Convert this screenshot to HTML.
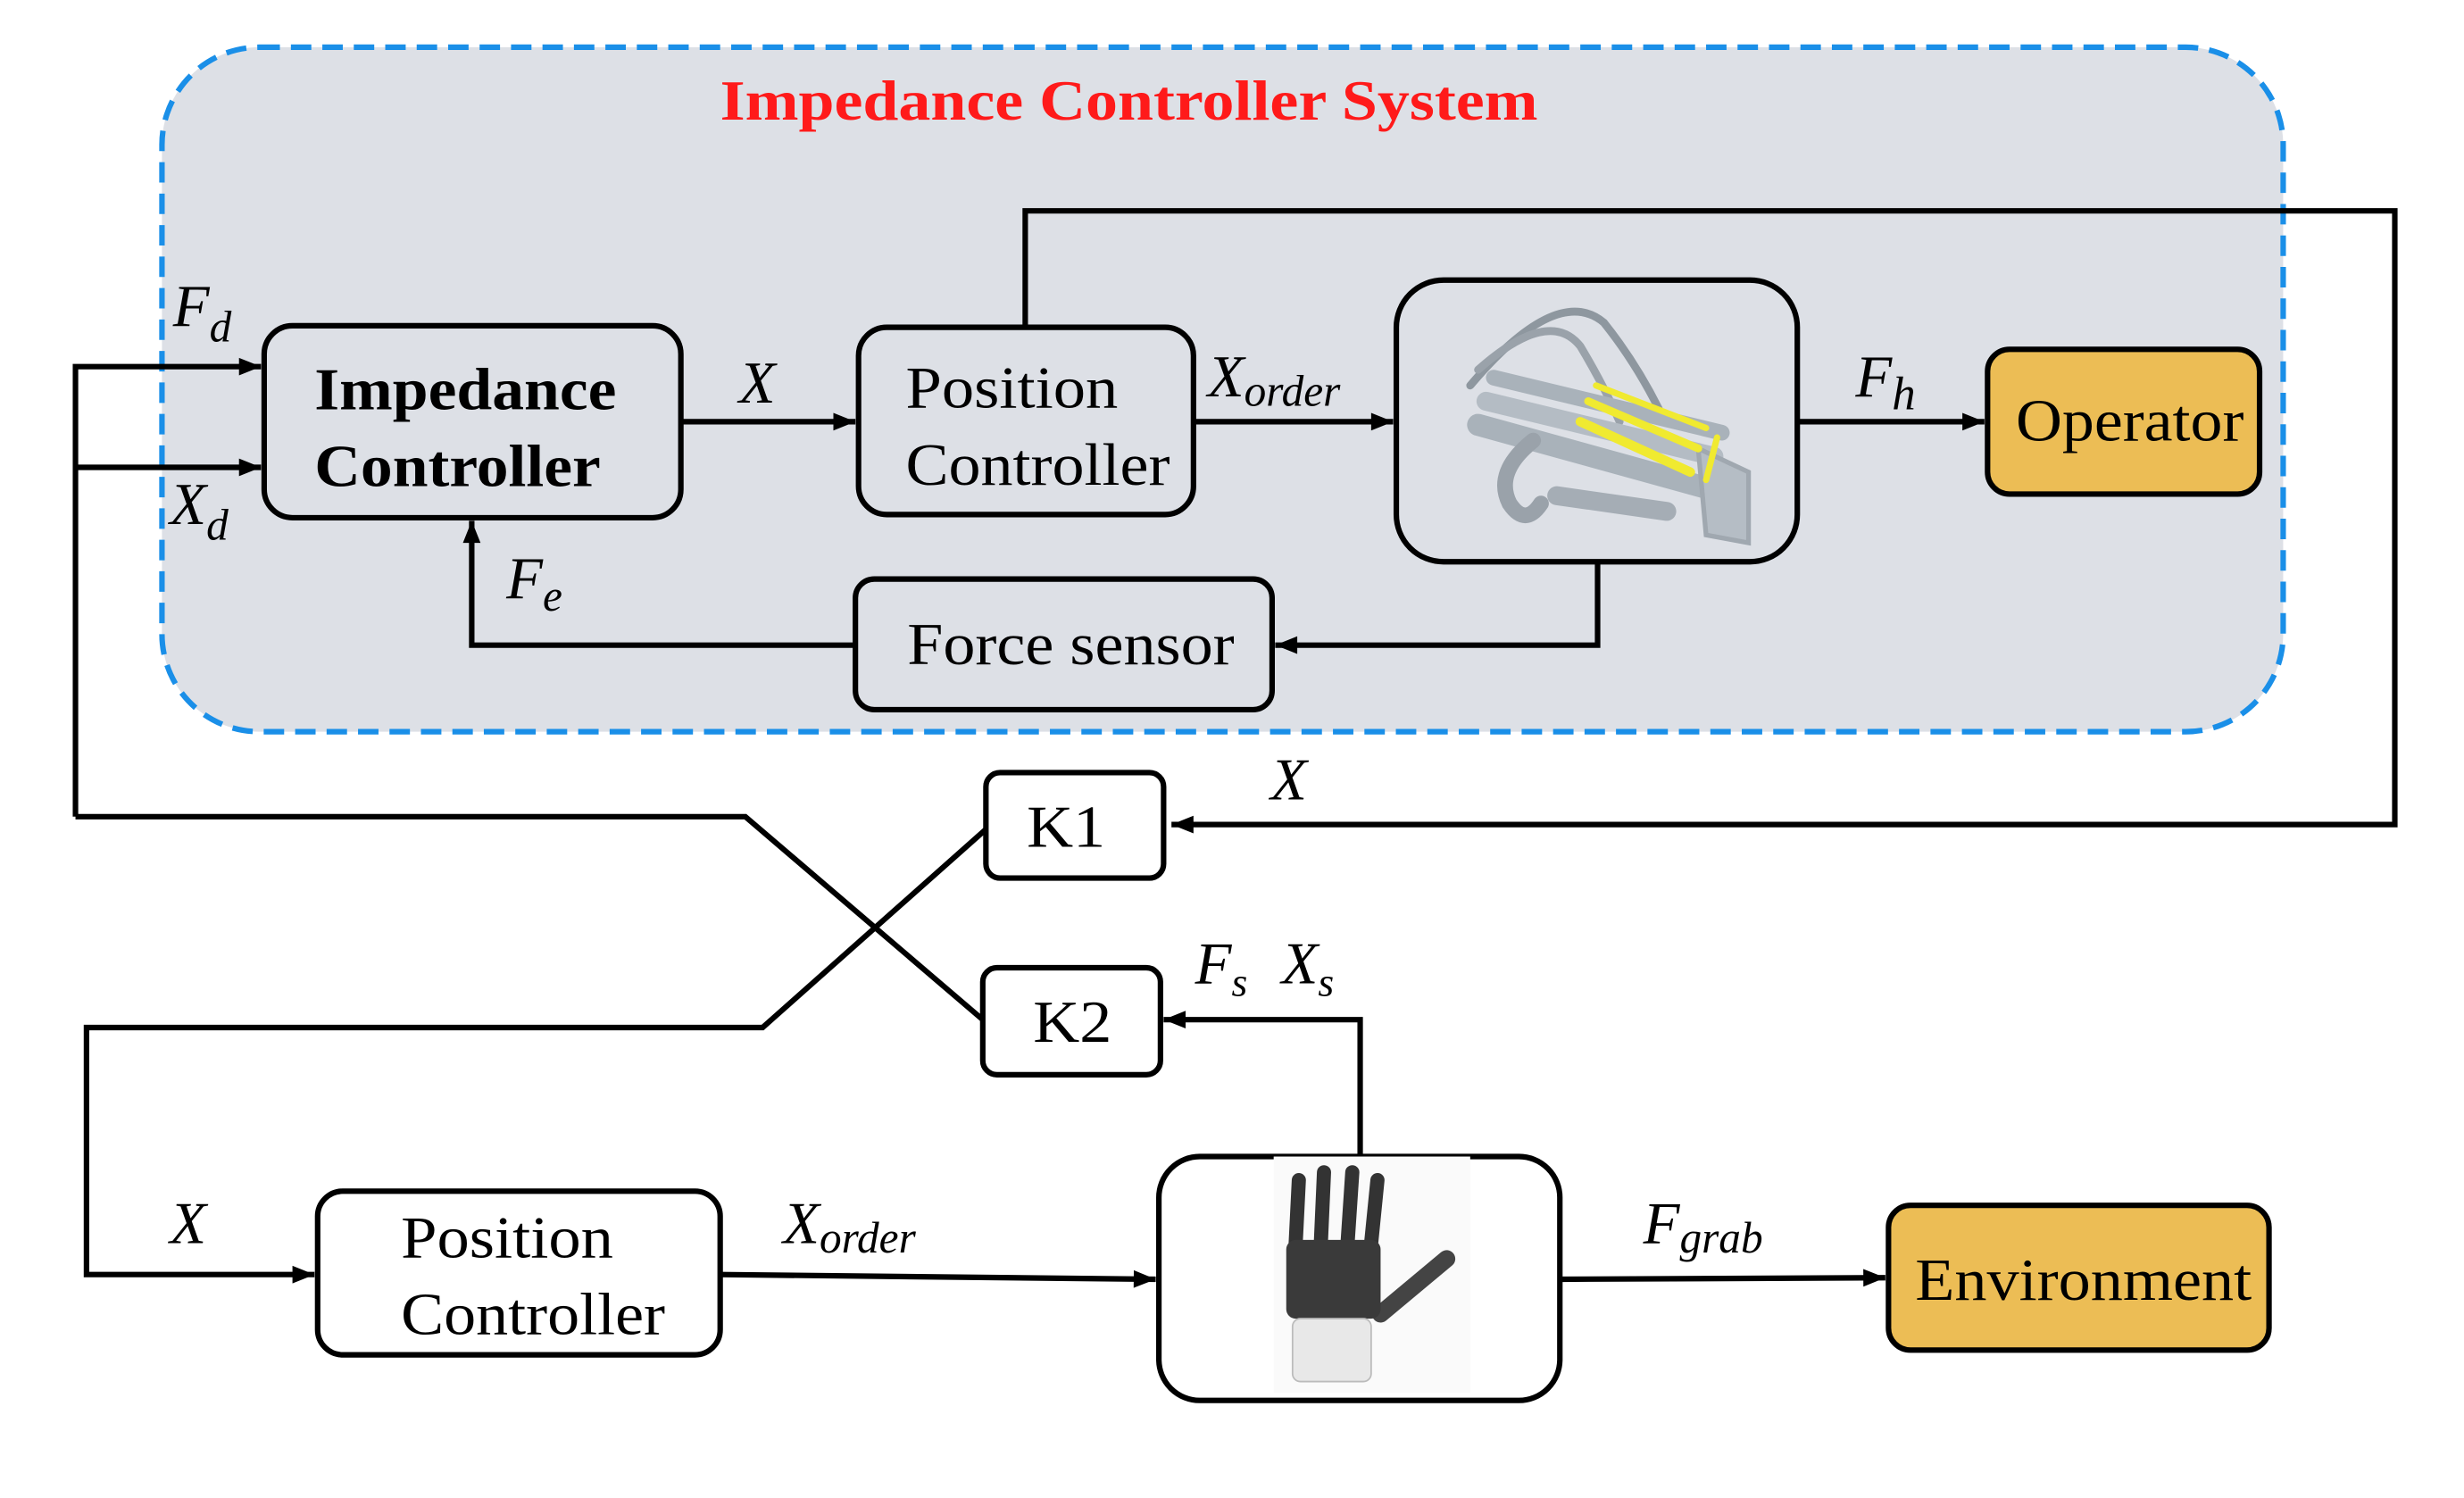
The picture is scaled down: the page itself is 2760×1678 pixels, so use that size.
<!DOCTYPE html>
<html><head><meta charset="utf-8"><style>
html,body{margin:0;padding:0;background:#fff;}
svg{display:block;}
</style></head><body>
<svg width="2760" height="1678" viewBox="0 0 1567 952" preserveAspectRatio="none" xmlns="http://www.w3.org/2000/svg" font-family="'Liberation Serif','DejaVu Serif',serif">
<defs>
<marker id="b" viewBox="0 0 10 10" refX="10" refY="5" markerWidth="18" markerHeight="14" orient="auto" markerUnits="userSpaceOnUse">
<path d="M0,1 L10,5 L0,9 Z" fill="#000"/></marker>
</defs>
<rect x="0" y="0" width="1567" height="952" fill="#fff"/>
<rect x="103" y="30" width="1349" height="435" rx="62" fill="#dde0e6" stroke="#1a8fe8" stroke-width="3.5" stroke-dasharray="13,7"/>
<text x="718" y="76" text-anchor="middle" font-size="36" font-weight="bold" fill="#ff1a1a" font-family="'Liberation Serif',serif" textLength="520" lengthAdjust="spacingAndGlyphs">Impedance Controller System</text>

<g fill="none" stroke="#000" stroke-width="3.5">
<polyline points="652,208 652,134 1523,134 1523,524 745,524" marker-end="url(#b)"/>
<polyline points="48,519 48,233 166,233" marker-end="url(#b)"/>
<line x1="48" y1="297" x2="166" y2="297" marker-end="url(#b)"/>
<polyline points="48,519 474,519 625,648"/>
<polyline points="627,527 485,653 55,653 55,810 200,810" marker-end="url(#b)"/>
<line x1="433" y1="268" x2="544" y2="268" marker-end="url(#b)"/>
<line x1="759" y1="268" x2="886" y2="268" marker-end="url(#b)"/>
<line x1="1143" y1="268" x2="1262" y2="268" marker-end="url(#b)"/>
<polyline points="544,410 300,410 300,331" marker-end="url(#b)"/>
<polyline points="1016,357 1016,410 811,410" marker-end="url(#b)"/>
<line x1="458" y1="810" x2="735" y2="813" marker-end="url(#b)"/>
<line x1="992" y1="813" x2="1199" y2="812" marker-end="url(#b)"/>
<polyline points="865,735 865,648 740,648" marker-end="url(#b)"/>
</g>

<g stroke="#000" stroke-width="3.5">
<rect x="168" y="207" width="265" height="122" rx="18" fill="#dde0e6"/>
<rect x="546" y="208" width="213" height="119" rx="18" fill="#dde0e6"/>
<rect x="888" y="178" width="255" height="179" rx="30" fill="#dde0e6"/>
<rect x="1264" y="222" width="173" height="92" rx="14" fill="#ecbd55"/>
<rect x="544" y="368" width="265" height="83" rx="12" fill="#dde0e6"/>
<rect x="627" y="491" width="113" height="67" rx="9" fill="#fff"/>
<rect x="625" y="615" width="113" height="68" rx="9" fill="#fff"/>
<rect x="202" y="757" width="256" height="104" rx="16" fill="#fff"/>
<rect x="737" y="735" width="255" height="155" rx="26" fill="#fff"/>
<rect x="1201" y="766" width="242" height="92" rx="14" fill="#ecbd55"/>
</g>

<g fill="none" stroke-linecap="round">
<path d="M935,245 Q990,180 1020,205 Q1040,230 1055,260" stroke="#8e979f" stroke-width="5"/>
<path d="M940,235 Q985,195 1005,220 Q1020,245 1030,268" stroke="#9aa2aa" stroke-width="5"/>
<path d="M940,270 L1085,310" stroke="#a9b2ba" stroke-width="14"/>
<path d="M945,255 L1090,290" stroke="#b4bcc4" stroke-width="12"/>
<path d="M950,240 L1095,275" stroke="#a9b2ba" stroke-width="10"/>
<path d="M975,280 Q950,300 960,320 Q970,335 980,320" stroke="#9aa2aa" stroke-width="10"/>
<path d="M990,315 L1060,325" stroke="#a5adb5" stroke-width="12"/>
<path d="M1080,285 L1112,300 L1112,345 L1085,340 Z" stroke="#a0a8b0" stroke-width="3" fill="#b5bdc5"/>
<path d="M1005,268 L1075,300" stroke="#f0ea30" stroke-width="6"/>
<path d="M1010,255 L1080,285" stroke="#f0ea30" stroke-width="5"/>
<path d="M1015,245 L1085,272" stroke="#f0ea30" stroke-width="4"/>
<path d="M1092,278 L1085,305" stroke="#f0ea30" stroke-width="4"/>
</g>

<rect x="810" y="735" width="125" height="150" fill="#fafafa"/>
<g stroke-linecap="round" fill="none">
<line x1="826" y1="750" x2="824" y2="790" stroke="#333" stroke-width="9"/>
<line x1="842" y1="745" x2="840" y2="790" stroke="#333" stroke-width="9"/>
<line x1="860" y1="745" x2="857" y2="790" stroke="#333" stroke-width="9"/>
<line x1="876" y1="750" x2="872" y2="790" stroke="#333" stroke-width="9"/>
<line x1="878" y1="835" x2="920" y2="800" stroke="#444" stroke-width="11"/>
</g>
<rect x="818" y="788" width="60" height="50" rx="6" fill="#3a3a3a"/>
<rect x="822" y="838" width="50" height="40" rx="5" fill="#e8e8e8" stroke="#bbb"/>

<g font-size="38" fill="#000" font-family="'Liberation Serif',serif">
<text x="200" y="260" font-weight="bold" textLength="192" lengthAdjust="spacingAndGlyphs">Impedance</text>
<text x="200" y="309" font-weight="bold" textLength="182" lengthAdjust="spacingAndGlyphs">Controller</text>
<text x="576" y="259" textLength="135" lengthAdjust="spacingAndGlyphs">Position</text>
<text x="576" y="308" textLength="168" lengthAdjust="spacingAndGlyphs">Controller</text>
<text x="1282" y="280" textLength="145" lengthAdjust="spacingAndGlyphs">Operator</text>
<text x="577" y="422" textLength="208" lengthAdjust="spacingAndGlyphs">Force sensor</text>
<text x="653" y="538" textLength="50" lengthAdjust="spacingAndGlyphs">K1</text>
<text x="657" y="662" textLength="50" lengthAdjust="spacingAndGlyphs">K2</text>
<text x="255" y="799" textLength="135" lengthAdjust="spacingAndGlyphs">Position</text>
<text x="255" y="848" textLength="168" lengthAdjust="spacingAndGlyphs">Controller</text>
<text x="1218" y="826" textLength="214" lengthAdjust="spacingAndGlyphs">Environment</text>
</g>
<g font-style="italic" fill="#000" font-size="38" font-family="'Liberation Serif',serif">
<text x="110" y="207">F<tspan font-size="28" dy="10">d</tspan></text>
<text x="108" y="333">X<tspan font-size="28" dy="10">d</tspan></text>
<text x="470" y="256">X</text>
<text x="768" y="252">X<tspan font-size="28" dy="6">order</tspan></text>
<text x="1180" y="252">F<tspan font-size="30" dy="8">h</tspan></text>
<text x="322" y="380">F<tspan font-size="28" dy="8">e</tspan></text>
<text x="808" y="508">X</text>
<text x="760" y="625">F<tspan font-size="26" dy="8">s</tspan></text>
<text x="815" y="625">X<tspan font-size="26" dy="8">s</tspan></text>
<text x="108" y="790">X</text>
<text x="498" y="790">X<tspan font-size="28" dy="6">order</tspan></text>
<text x="1045" y="790">F<tspan font-size="28" dy="6">grab</tspan></text>
</g>
</svg>
</body></html>
